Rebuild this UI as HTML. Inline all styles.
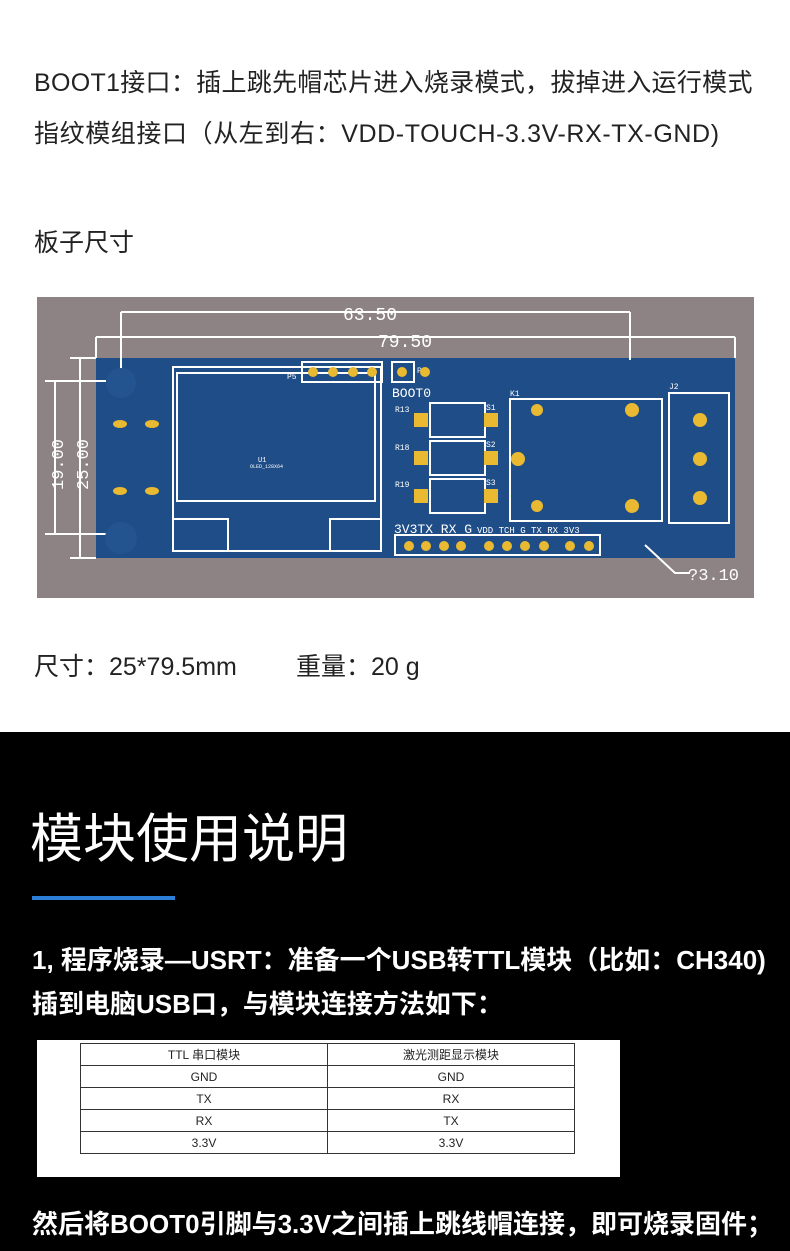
<!DOCTYPE html>
<html><head><meta charset="utf-8"><style>
body{margin:0;width:790px;height:1251px;overflow:hidden;background:#fff;font-family:"Liberation Sans","Noto Sans CJK SC",sans-serif;position:relative}
.t{position:absolute;white-space:nowrap}
.top{color:#222;font-size:25px}
.blk{position:absolute;left:0;top:732px;width:790px;height:519px;background:#000}
.w{color:#fff;font-weight:bold;font-size:26px}
table{border-collapse:collapse;position:absolute;left:80px;top:1043px;width:495px;font-size:12px;color:#222}
td{border:1px solid #333;text-align:center;height:21px;padding:0;width:50%}
</style></head><body>
<div class="t top" style="left:34px;top:63px;letter-spacing:0.3px">BOOT1接口：插上跳先帽芯片进入烧录模式，拔掉进入运行模式</div>
<div class="t top" style="left:34px;top:114px;letter-spacing:0.6px">指纹模组接口（从左到右：VDD-TOUCH-3.3V-RX-TX-GND)</div>
<div class="t top" style="left:34px;top:223px">板子尺寸</div>
<svg style="position:absolute;left:37px;top:297px" width="717" height="301" viewBox="37 297 717 301">
<rect x="37" y="297" width="717" height="301" fill="#8d8385"/>
<rect x="96" y="358" width="639" height="200" fill="#1f4d87"/>
<g stroke="#fff" fill="none" stroke-width="2">
<path d="M121 312H630M121 312V370M630 312V360M96 337H735M96 337V358M735 337V358"/>
<path d="M55 381V534M45 381H106M45 534H106M80 358V558M70 358H96M70 558H96"/>
<rect x="173" y="367" width="208" height="184"/>
<rect x="177" y="373" width="198" height="128"/>
<rect x="173" y="519" width="55" height="32"/><rect x="330" y="519" width="51" height="32"/>
<rect x="302" y="362" width="80" height="20"/><rect x="392" y="362" width="22" height="20"/>
<rect x="430" y="403" width="55" height="34"/><rect x="430" y="441" width="55" height="34"/><rect x="430" y="479" width="55" height="34"/>
<rect x="510" y="399" width="152" height="122"/><rect x="669" y="393" width="60" height="130"/>
<rect x="395" y="535" width="205" height="20"/>
<path d="M690 573H675L645 545"/>
</g>
<g font-family="Liberation Mono,monospace" fill="#fff">
<text x="343" y="320" font-size="18">63.50</text><text x="378" y="347" font-size="18">79.50</text>
<text x="688" y="580" font-size="17">?3.10</text>
<text x="392" y="397" font-size="13">BOOT0</text>
<text x="394" y="533" font-size="13">3V3TX RX G</text>
<text x="477" y="533" font-size="9">VDD TCH  G  TX  RX 3V3</text>
<text x="63" y="490" font-size="17" transform="rotate(-90 63 490)">19.00</text>
<text x="88" y="490" font-size="17" transform="rotate(-90 88 490)">25.00</text>
<text x="395" y="412" font-size="8">R13</text><text x="395" y="450" font-size="8">R18</text><text x="395" y="487" font-size="8">R19</text>
<text x="486" y="410" font-size="8">S1</text><text x="486" y="447" font-size="8">S2</text><text x="486" y="485" font-size="8">S3</text>
<text x="287" y="379" font-size="8">P5</text><text x="417" y="373" font-size="8">P4</text>
<text x="510" y="396" font-size="8">K1</text><text x="669" y="389" font-size="8">J2</text>
<text x="258" y="462" font-size="7">U1</text><text x="250" y="468" font-size="5">OLED_128X64</text>
</g>
<g fill="#e8b931">
<circle cx="313" cy="372" r="5"/><circle cx="333" cy="372" r="5"/><circle cx="353" cy="372" r="5"/><circle cx="372" cy="372" r="5"/>
<circle cx="402" cy="372" r="5"/><circle cx="425" cy="372" r="5"/>
<rect x="414" y="451" width="14" height="14"/><rect x="484" y="451" width="14" height="14"/>
<rect x="414" y="413" width="14" height="14"/><rect x="484" y="413" width="14" height="14"/>
<rect x="414" y="489" width="14" height="14"/><rect x="484" y="489" width="14" height="14"/>
<circle cx="537" cy="410" r="6"/><circle cx="632" cy="410" r="7"/><circle cx="518" cy="459" r="7"/><circle cx="537" cy="506" r="6"/><circle cx="632" cy="506" r="7"/>
<circle cx="700" cy="420" r="7"/><circle cx="700" cy="459" r="7"/><circle cx="700" cy="498" r="7"/>
<circle cx="409" cy="546" r="5"/><circle cx="426" cy="546" r="5"/><circle cx="444" cy="546" r="5"/><circle cx="461" cy="546" r="5"/>
<circle cx="489" cy="546" r="5"/><circle cx="507" cy="546" r="5"/><circle cx="525" cy="546" r="5"/><circle cx="544" cy="546" r="5"/><circle cx="570" cy="546" r="5"/><circle cx="589" cy="546" r="5"/>
<ellipse cx="120" cy="424" rx="7" ry="4"/><ellipse cx="152" cy="424" rx="7" ry="4"/><ellipse cx="120" cy="491" rx="7" ry="4"/><ellipse cx="152" cy="491" rx="7" ry="4"/>
</g>
<circle cx="121" cy="383" r="15" fill="#24548f"/><circle cx="121" cy="538" r="16" fill="#24548f"/>
</svg>
<div class="t top" style="left:34px;top:647px">尺寸：25*79.5mm</div>
<div class="t top" style="left:296px;top:647px">重量：20 g</div>
<div class="blk"></div>
<div class="t" style="left:30px;top:797px;color:#fff;font-size:53px">模块使用说明</div>
<div style="position:absolute;left:32px;top:896px;width:143px;height:4px;background:#2b7fd6"></div>
<div class="t w" style="left:32px;top:940px">1, 程序烧录—USRT：准备一个USB转TTL模块（比如：CH340)</div>
<div class="t w" style="left:32px;top:984px">插到电脑USB口，与模块连接方法如下：</div>
<div style="position:absolute;left:37px;top:1040px;width:583px;height:137px;background:#fff"></div>
<table><tr><td>TTL 串口模块</td><td>激光测距显示模块</td></tr><tr><td>GND</td><td>GND</td></tr><tr><td>TX</td><td>RX</td></tr><tr><td>RX</td><td>TX</td></tr><tr><td>3.3V</td><td>3.3V</td></tr></table>
<div class="t w" style="left:32px;top:1204px">然后将BOOT0引脚与3.3V之间插上跳线帽连接，即可烧录固件；</div>
</body></html>
